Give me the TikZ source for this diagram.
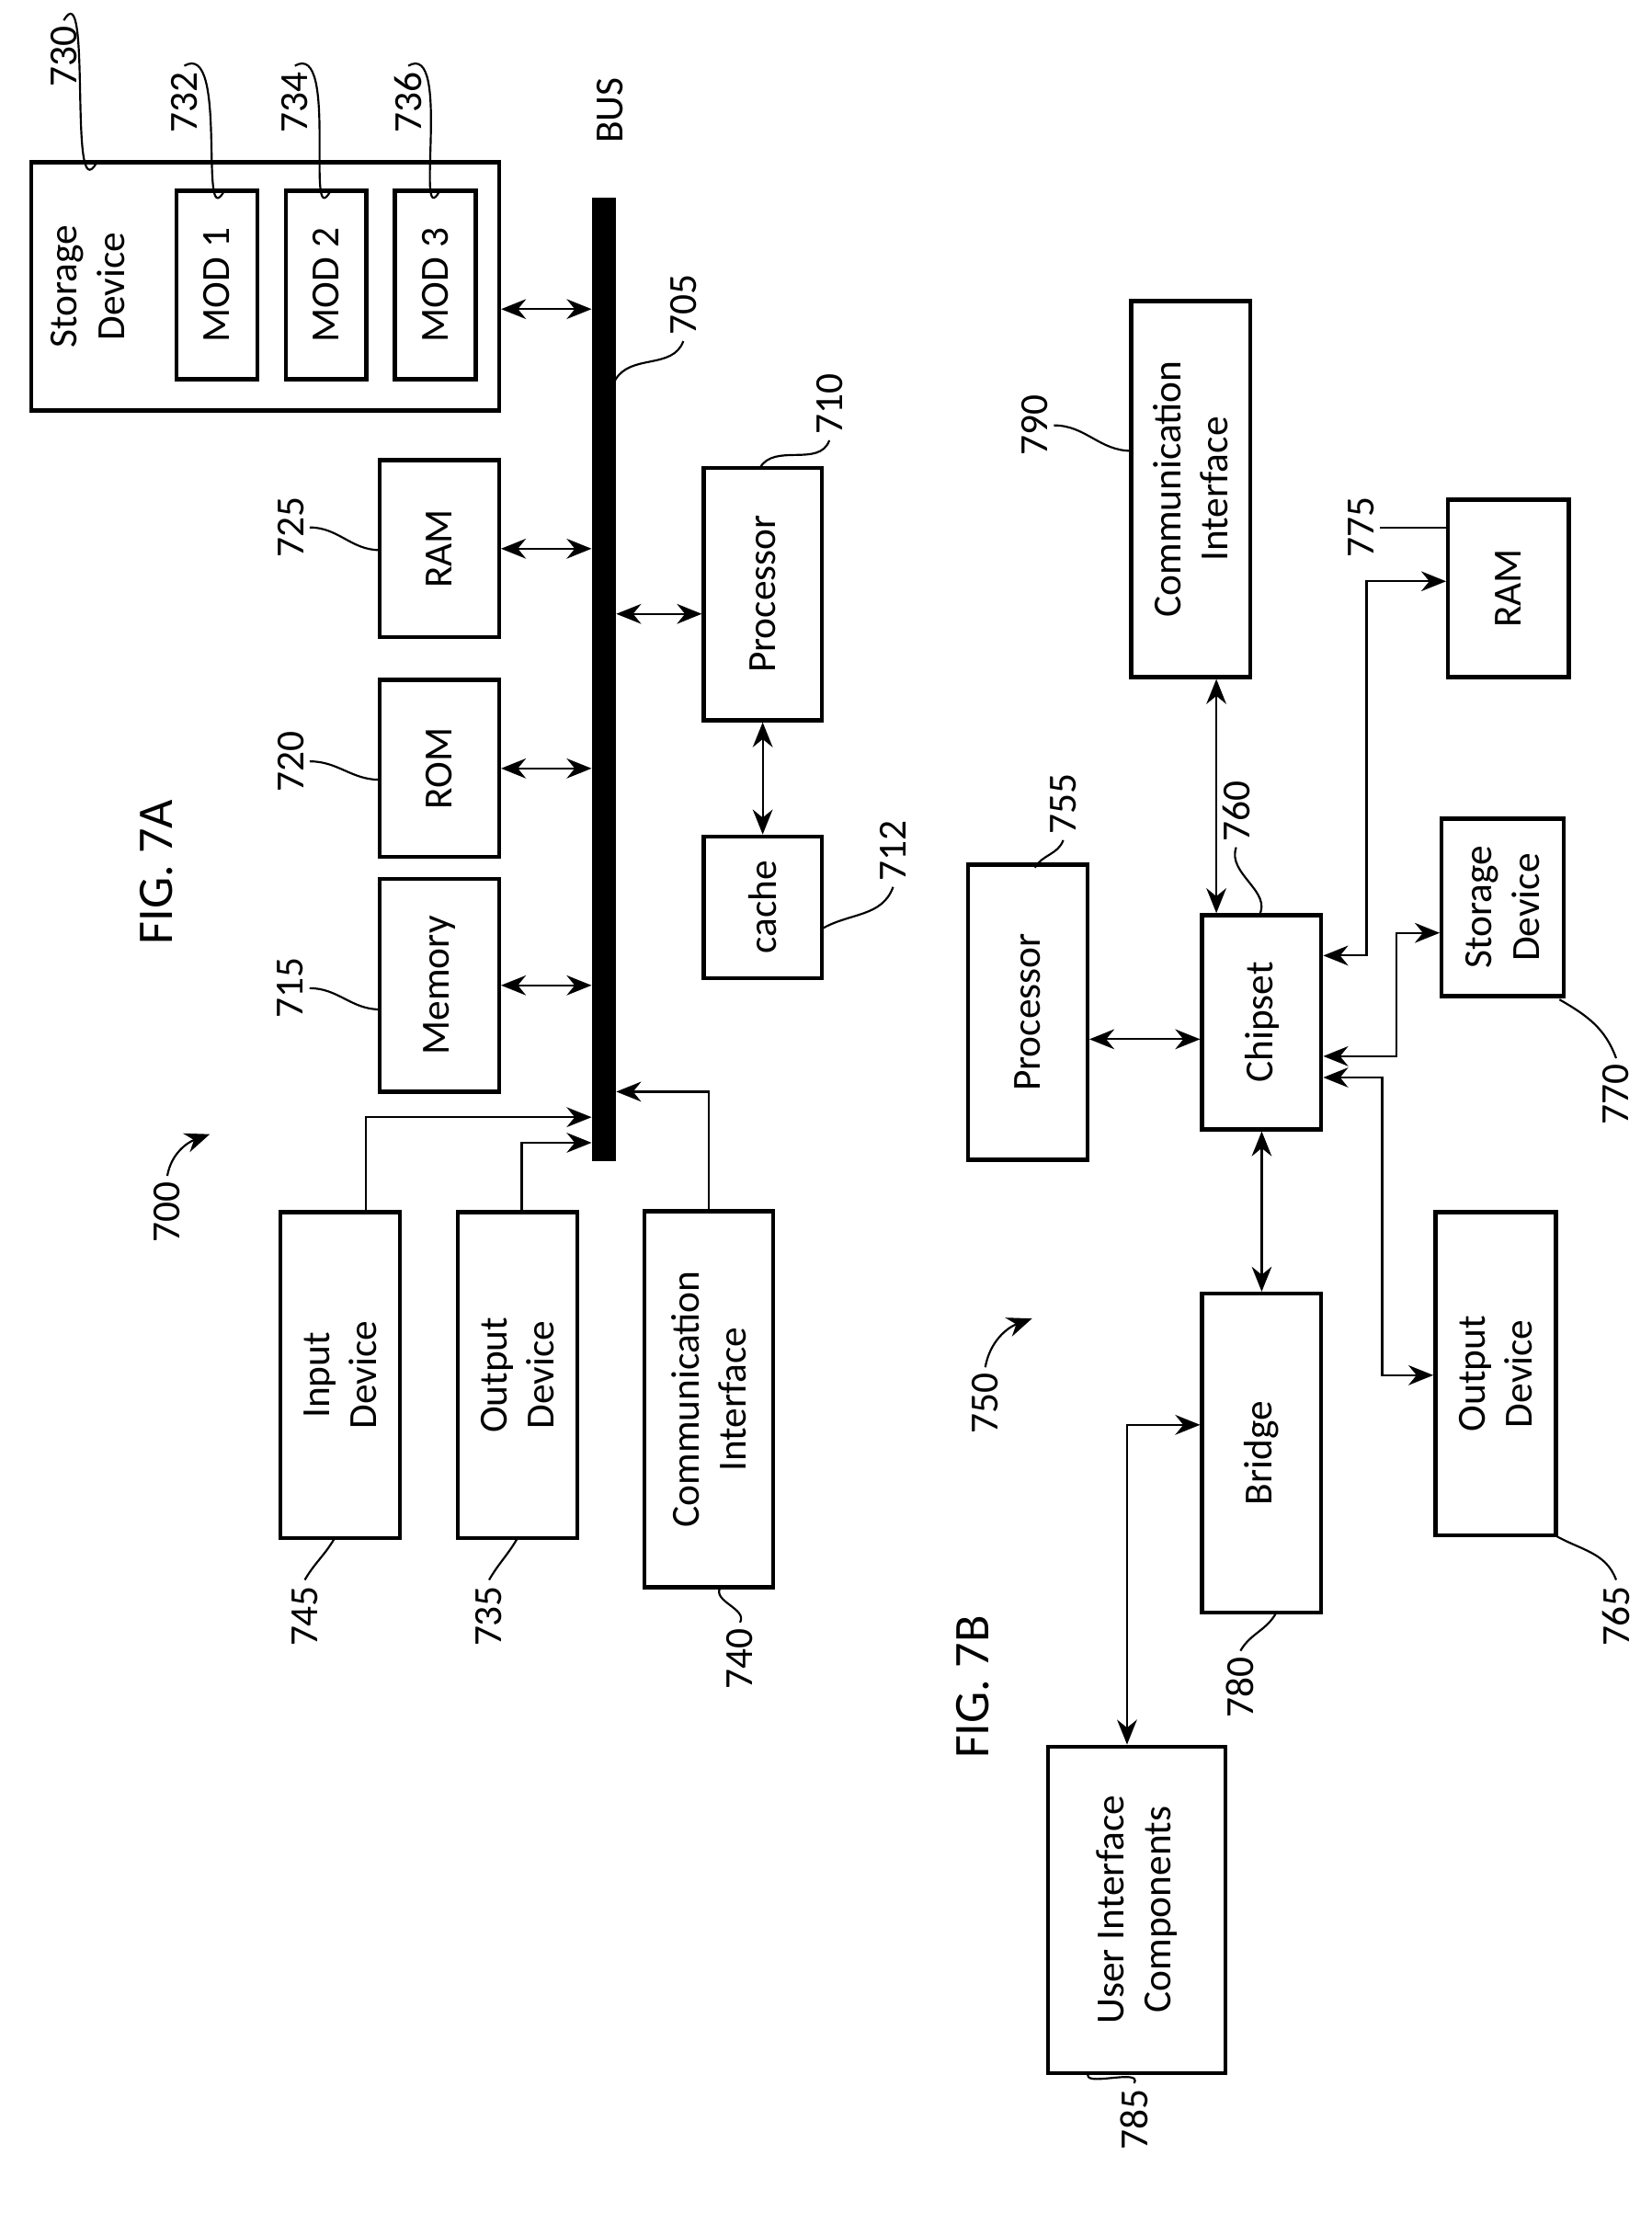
\documentclass[tikz,border=0pt]{standalone}
\usepackage{fontspec}
\setmainfont{Carlito}
\usetikzlibrary{arrows.meta, calc}

\begin{document}
\begin{tikzpicture}[
	x=0.01cm, y=-0.01cm,
	font=\fontsize{8}{9.5}\selectfont,
	box/.style={draw, thick, rotate=90, align=center, inner sep=0pt},
	num/.style={rotate=90, inner sep=1pt},
	arr/.style={{Stealth[length=5pt,width=4pt]}-{Stealth[length=5pt,width=4pt]}},
	to/.style={-{Stealth[length=5pt,width=4pt]}},
	lead/.style={thin}
	]
	\useasboundingbox (0,0) rectangle (1165,1568);

	% FIG. 7A
	\node[num, font=\fontsize{10}{12}\selectfont] (fig7a) at (110,615) {FIG. 7A};
	\node[box, minimum width=1.75cm, minimum height=3.3cm] (stor) at (187,202) {};
	\node[num, align=center] (stortxt) at (62,202) {Storage\\Device};
	\node[box, minimum width=1.33cm, minimum height=0.57cm] (mod1) at (153,201) {MOD 1};
	\node[box, minimum width=1.33cm, minimum height=0.57cm] (mod2) at (230,201) {MOD 2};
	\node[box, minimum width=1.33cm, minimum height=0.57cm] (mod3) at (307,201) {MOD 3};
	\node[draw, fill=black, minimum width=0.16cm, minimum height=6.78cm, inner sep=0pt] (bus) at (426,479) {};
	\node[num] (bustxt) at (430,78) {BUS};
	\node[box, minimum width=1.25cm, minimum height=0.84cm] (ram) at (310,387) {RAM};
	\node[box, minimum width=1.25cm, minimum height=0.84cm] (rom) at (310,542) {ROM};
	\node[box, minimum width=1.5cm, minimum height=0.84cm] (mem) at (310,695) {Memory};
	\node[box, minimum width=1.78cm, minimum height=0.83cm] (proc) at (538,419) {Processor};
	\node[box, minimum width=1.0cm, minimum height=0.83cm] (cache) at (538,640) {cache};
	\node[box, minimum width=2.3cm, minimum height=0.84cm] (inp) at (240,970) {Input\\Device};
	\node[box, minimum width=2.3cm, minimum height=0.84cm] (outp) at (365,970) {Output\\Device};
	\node[box, minimum width=2.65cm, minimum height=0.91cm] (comm) at (500,987) {Communication\\Interface};

	\draw[arr] (stor.south |- 0,218) -- (bus.west |- 0,218);
	\draw[arr] (ram.south) -- (bus.west |- ram.south);
	\draw[arr] (rom.south) -- (bus.west |- rom.south);
	\draw[arr] (mem.south) -- (bus.west |- mem.south);
	\draw[arr] (proc.north |- 0,433) -- (bus.east |- 0,433);
	\draw[arr] (proc.west) -- (cache.east);
	\draw[to] (inp.east -| 258,0) |- (bus.west |- 0,788);
	\draw[to] (outp.east -| 368,0) |- (bus.west |- 0,806);
	\draw[to] (comm.east) |- (bus.east |- 0,770);

	\node[num] (n700) at (118,855) {700};
	\draw[to] (n700.east) to[out=80,in=200] (148,800);
	\node[num] (n730) at (45,40) {730};
	\draw[lead] (n730.east) to[out=60,in=240] (68,115);
	\node[num] (n732) at (130,72) {732};
	\draw[lead] (n732.east) to[out=30,in=240] (158,135);
	\node[num] (n734) at (208,72) {734};
	\draw[lead] (n734.east) to[out=30,in=240] (233,135);
	\node[num] (n736) at (288,72) {736};
	\draw[lead] (n736.east) to[out=30,in=240] (310,135);
	\node[num] (n725) at (205,372) {725};
	\draw[lead] (n725.south) to[out=0,in=180] (268,388);
	\node[num] (n720) at (205,537) {720};
	\draw[lead] (n720.south) to[out=0,in=180] (268,550);
	\node[num] (n715) at (205,697) {715};
	\draw[lead] (n715.south) to[out=0,in=180] (268,712);
	\node[num] (n705) at (482,215) {705};
	\draw[lead] (n705.west) to[out=250,in=60] (434,268);
	\node[num] (n710) at (585,285) {710};
	\draw[lead] (n710.west) to[out=250,in=60] (536,330);
	\node[num] (n712) at (630,600) {712};
	\draw[lead] (n712.west) to[out=250,in=30] (580,655);
	\node[num] (n745) at (215,1140) {745};
	\draw[lead] (n745.east) to[out=60,in=240] (236,1085);
	\node[num] (n735) at (345,1140) {735};
	\draw[lead] (n735.east) to[out=60,in=240] (365,1085);
	\node[num] (n740) at (522,1170) {740};
	\draw[lead] (n740.east) to[out=60,in=240] (508,1120);

	% FIG. 7B
	\node[num, font=\fontsize{10}{12}\selectfont] (fig7b) at (686,1190) {FIG. 7B};
	\node[box, minimum width=2.65cm, minimum height=0.84cm] (comm2) at (840,345) {Communication\\Interface};
	\node[box, minimum width=1.25cm, minimum height=0.85cm] (ram2) at (1064,415) {RAM};
	\node[box, minimum width=2.08cm, minimum height=0.84cm] (proc2) at (725,714) {Processor};
	\node[box, minimum width=1.51cm, minimum height=0.84cm] (chip) at (890,721) {Chipset};
	\node[box, minimum width=1.25cm, minimum height=0.86cm] (stor2) at (1060,640) {Storage\\Device};
	\node[box, minimum width=2.25cm, minimum height=0.84cm] (bridge) at (890,1025) {Bridge};
	\node[box, minimum width=2.28cm, minimum height=0.85cm] (outp2) at (1055,969) {Output\\Device};
	\node[box, minimum width=2.3cm, minimum height=1.25cm] (ui) at (802,1347) {User Interface\\Components};

	\draw[arr] (proc2.south |- 0,733) -- (chip.north |- 0,733);
	\draw[arr] (comm2.west -| 858,0) -- (chip.east -| 858,0);
	\draw[arr] (chip.south |- 0,674) -| (964,410) -- (ram2.north |- 0,410);
	\draw[arr] (chip.south |- 0,745) -| (985,658) -- (stor2.north |- 0,658);
	\draw[arr] (chip.south |- 0,760) -| (975,970) -- (outp2.north |- 0,970);
	\draw[arr] (chip.west) -- (bridge.east);
	\draw[arr] (bridge.north |- 0,1005) -| (ui.east -| 795,0);

	\node[num] (n750) at (695,990) {750};
	\draw[to] (n750.east) to[out=80,in=200] (728,930);
	\node[num] (n790) at (730,300) {790};
	\draw[lead] (n790.south) to[out=0,in=180] (798,318);
	\node[num] (n775) at (960,372) {775};
	\draw[lead] (n775.south) to[out=0,in=180] (1022,372);
	\node[num] (n755) at (750,567) {755};
	\draw[lead] (n755.west) to[out=250,in=60] (730,612);
	\node[num] (n760) at (872,572) {760};
	\draw[lead] (n760.west) to[out=250,in=60] (888,646);
	\node[num] (n770) at (1140,772) {770};
	\draw[lead] (n770.east) to[out=110,in=330] (1100,705);
	\node[num] (n765) at (1140,1140) {765};
	\draw[lead] (n765.east) to[out=110,in=330] (1097,1083);
	\node[num] (n780) at (875,1190) {780};
	\draw[lead] (n780.east) to[out=60,in=240] (900,1138);
	\node[num] (n785) at (800,1495) {785};
	\draw[lead] (n785.east) to[out=60,in=240] (768,1462);
\end{tikzpicture}
\end{document}
